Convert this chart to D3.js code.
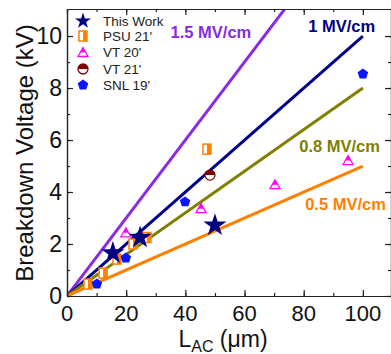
<!DOCTYPE html>
<html>
<head>
<meta charset="utf-8">
<script src="https://cdn.jsdelivr.net/npm/d3@7"></script>
<style>
  body { margin: 0; background: #fff; }
  svg { display: block; font-family: "Liberation Sans", Arial, sans-serif; }
</style>
</head>
<body>
<div id="chart"></div>
<script>
// breakdown voltage (kV) vs anode-cathode spacing L_AC (um)
var thisWork = [[15.5, 1.65], [24.7, 2.25], [50, 2.72]];
var psu21    = [[7.1, 0.46], [12.2, 0.88], [16.9, 1.42], [22.3, 2.0], [27, 2.25], [47.3, 5.65]];
var vt20     = [[19.9, 2.45], [45.3, 3.38], [70.3, 4.3], [95, 5.23]];
var vt21     = [[48.3, 4.65]];
var snl19    = [[10.1, 0.46], [19.9, 1.46], [39.9, 3.62], [100, 8.54]];

var fields      = [1.5, 1, 0.8, 0.5];   // MV/cm
var fieldNames  = ["1.5 MV/cm", "1 MV/cm", "0.8 MV/cm", "0.5 MV/cm"];
var xTicks      = [0, 20, 40, 60, 80, 100];
var yTicks      = [0, 2, 4, 6, 8, 10];
var legendNames = ["This Work", "PSU 21'", "VT 20'", "VT 21'", "SNL 19'"];

var W = 391, H = 354;
var margin = {top: 9, right: 0, bottom: 58, left: 67};

var x = d3.scaleLinear().domain([0, 109.5]).range([margin.left, W - margin.right]);
var y = d3.scaleLinear().domain([0, 11.04]).range([H - margin.bottom, margin.top]);

var svg = d3.select("#chart").append("svg")
  .attr("width", W)
  .attr("height", H);

svg.append("defs").append("clipPath").attr("id", "plot")
  .append("rect")
  .attr("x", margin.left).attr("y", margin.top)
  .attr("width", W - margin.left - margin.right)
  .attr("height", H - margin.top - margin.bottom);

// field lines  V(kV) = E(MV/cm) * L(um) / 10
var lineColors = ["#8a2be2", "#00008f", "#808000", "#ff8000"];
var line = d3.line().x(function(d) { return x(d[0]); }).y(function(d) { return y(d[1]); });

svg.append("g").attr("clip-path", "url(#plot)")
  .selectAll("path")
  .data(fields)
  .enter().append("path")
  .attr("d", function(e) { return line([[0, 0], [100, e * 10]]); })
  .attr("fill", "none")
  .attr("stroke", function(e, i) { return lineColors[i]; })
  .attr("stroke-width", 3);

var labelPos = [[35, 38], [81.5, 32], [78.5, 152], [80.5, 210]];
svg.append("g").selectAll("text")
  .data(fieldNames)
  .enter().append("text")
  .attr("x", function(d, i) { return x(labelPos[i][0]); })
  .attr("y", function(d, i) { return labelPos[i][1]; })
  .attr("font-size", 16.5)
  .attr("font-weight", "bold")
  .attr("fill", function(d, i) { return i == 1 ? "#000080" : lineColors[i]; })
  .text(function(d) { return d; });

// axes: inward ticks on all four sides
var axisColor = "#222";
function frameAxis(axis, transform) {
  var g = svg.append("g").attr("transform", transform).call(axis);
  g.selectAll("path, line").attr("stroke", axisColor).attr("stroke-width", 1.2);
  g.selectAll("text").remove();
  return g;
}
var bottomY = y(0), topY = y.range()[1], leftX = x(0), rightX = x.range()[1];

frameAxis(d3.axisBottom(x).tickValues(d3.range(0, 110, 10)).tickSize(-3).tickSizeOuter(0), "translate(0," + bottomY + ")");
frameAxis(d3.axisTop(x).tickValues(d3.range(0, 110, 10)).tickSize(-3).tickSizeOuter(0), "translate(0," + topY + ")");
frameAxis(d3.axisLeft(y).tickValues(d3.range(0, 11, 1)).tickSize(-3).tickSizeOuter(0), "translate(" + leftX + ",0)");
frameAxis(d3.axisRight(y).tickValues(d3.range(0, 11, 1)).tickSize(-3).tickSizeOuter(0), "translate(" + rightX + ",0)");
// major ticks longer
frameAxis(d3.axisBottom(x).tickValues(xTicks).tickSize(-6).tickSizeOuter(0), "translate(0," + bottomY + ")");
frameAxis(d3.axisTop(x).tickValues(xTicks).tickSize(-6).tickSizeOuter(0), "translate(0," + topY + ")");
frameAxis(d3.axisLeft(y).tickValues(yTicks).tickSize(-6).tickSizeOuter(0), "translate(" + leftX + ",0)");
frameAxis(d3.axisRight(y).tickValues(yTicks).tickSize(-6).tickSizeOuter(0), "translate(" + rightX + ",0)");

// tick labels
svg.append("g").selectAll("text")
  .data(xTicks)
  .enter().append("text")
  .attr("x", function(d) { return x(d); })
  .attr("y", bottomY + 25)
  .attr("text-anchor", "middle")
  .attr("font-size", 22)
  .attr("fill", "#111")
  .text(function(d) { return d; });

svg.append("g").selectAll("text")
  .data(yTicks)
  .enter().append("text")
  .attr("x", leftX - 5)
  .attr("y", function(d) { return y(d) + 8; })
  .attr("text-anchor", "end")
  .attr("font-size", 23)
  .attr("fill", "#111")
  .text(function(d) { return d; });

// axis titles
svg.append("text")
  .attr("transform", "translate(33,153) rotate(-90)")
  .attr("text-anchor", "middle")
  .attr("font-size", 24)
  .attr("fill", "#111")
  .text("Breakdown Voltage (kV)");

var xt = svg.append("text")
  .attr("x", 223)
  .attr("y", 347)
  .attr("text-anchor", "middle")
  .attr("font-size", 23)
  .attr("fill", "#111");
xt.append("tspan").text("L");
xt.append("tspan").attr("font-size", 16).attr("dy", 5).text("AC");
xt.append("tspan").attr("dy", -5).text(" (\u03bcm)");

// markers
var cStar = "#000080", cSq = "#ff8000", cTri = "#ff00ff", cCirc = "#800000", cPent = "#0a14ff";

function pentagon(r) {
  var pts = d3.range(5).map(function(i) {
    var a = -Math.PI / 2 + i * 2 * Math.PI / 5;
    return [r * Math.cos(a), r * Math.sin(a)];
  });
  return "M" + pts.join("L") + "Z";
}

function drawStar(g, size) {
  g.append("path").attr("d", d3.symbol(d3.symbolStar, size)()).attr("fill", cStar);
}
function drawSquare(g) {
  g.append("rect").attr("x", -4).attr("y", -5).attr("width", 8).attr("height", 10)
    .attr("fill", "#fff").attr("stroke", cSq).attr("stroke-width", 1.5);
  g.append("rect").attr("x", 0).attr("y", -5).attr("width", 4).attr("height", 10).attr("fill", cSq);
}
function drawTriangle(g) {
  var h = 9, w = 10;
  g.append("path").attr("d", "M0," + (-h / 2) + "L" + (w / 2) + "," + (h / 2) + "L" + (-w / 2) + "," + (h / 2) + "Z")
    .attr("fill", "#fff").attr("stroke", cTri).attr("stroke-width", 1.3);
  g.append("path").attr("d", "M0," + (-h / 2) + "L" + (w / 4) + ",0.5L" + (-w / 4) + ",0.5Z").attr("fill", cTri);
}
function drawCircle(g) {
  g.append("circle").attr("r", 5).attr("fill", "#fff").attr("stroke", cCirc).attr("stroke-width", 1.3);
  g.append("path").attr("d", "M-5,0A5,5 0 0 1 5,0Z").attr("fill", cCirc);
}
function drawPent(g) {
  g.append("path").attr("d", pentagon(5.5)).attr("fill", cPent);
}

function plotSeries(data, draw) {
  svg.append("g").selectAll("g")
    .data(data)
    .enter().append("g")
    .attr("transform", function(d) { return "translate(" + x(d[0]) + "," + y(d[1]) + ")"; })
    .each(function() { draw(d3.select(this)); });
}

plotSeries(psu21, drawSquare);
plotSeries(vt20, drawTriangle);
plotSeries(vt21, drawCircle);
plotSeries(snl19, drawPent);
plotSeries(thisWork, function(g) { drawStar(g, 165); });

// legend
var legendDraw = [function(g) { drawStar(g, 80); }, drawSquare, drawTriangle, drawCircle, drawPent];
var legendY = [21, 36, 52, 69, 85];
var leg = svg.append("g").selectAll("g")
  .data(legendNames)
  .enter().append("g")
  .attr("transform", function(d, i) { return "translate(83," + legendY[i] + ")"; });
leg.each(function(d, i) { legendDraw[i](d3.select(this)); });
leg.append("text")
  .attr("x", 20)
  .attr("y", 5)
  .attr("font-size", 13.5)
  .attr("fill", "#222")
  .text(function(d) { return d; });
</script>
</body>
</html>
